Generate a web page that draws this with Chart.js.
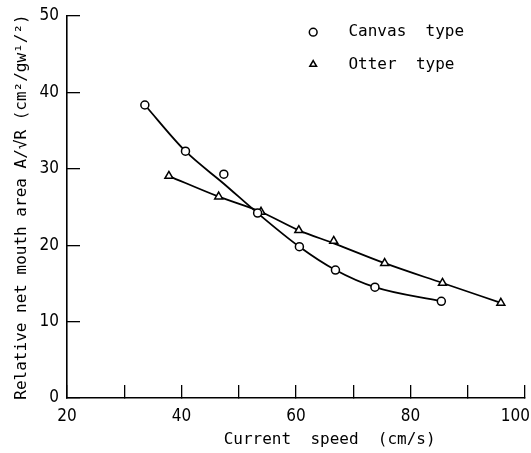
<!DOCTYPE html>
<html>
<head>
<meta charset="utf-8">
<script src="https://cdn.jsdelivr.net/npm/chart.js@4/dist/chart.umd.min.js"></script>
<style>
html,body{margin:0;padding:0;background:#fff;}
canvas{display:block;}
</style>
</head>
<body>
<canvas id="c" width="531" height="453"></canvas>
<script>
// ---- data ----
const seriesLabels = ['Canvas  type', 'Otter  type'];
const canvasSpeed = [33.6, 40.7, 47.4, 53.3, 60.6, 66.9, 73.8, 85.4];
const canvasArea  = [38.35, 32.3, 29.3, 24.2, 19.8, 16.75, 14.5, 12.65];
const canvasCurve = [38.35, 32.3, 28.05, 24.2, 19.8, 16.75, 14.5, 12.65];
const otterSpeed  = [37.8, 46.5, 53.9, 60.5, 66.6, 75.5, 85.6, 95.8];
const otterArea   = [29.05, 26.35, 24.35, 21.95, 20.55, 17.65, 15.05, 12.45];
const otterCurve  = [29.05, 26.35, 24.35, 21.95, 20.25, 17.65, 15.05, 12.45];
const xTickMin = 20, xTickMax = 100, xTickStep = 10, xLabelEvery = 20;
const yTickMin = 0, yTickMax = 50, yTickStep = 10;
const xAxisTitle = '       Current  speed  (cm/s)';
const yAxisTitle = 'Relative net mouth area A/\u221AR (cm\u00B2/gw\u00B9/\u00B2)';

const toPts = (xs, ys) => xs.map((x, i) => ({x: x, y: ys[i]}));

const mono = "'DejaVu Sans Mono', 'Liberation Mono', monospace";
const narrow = "'Liberation Sans Narrow', 'DejaVu Sans Condensed', 'Roboto Condensed', 'Liberation Sans', sans-serif";

const placeItems = {
  id: 'placeItems',
  afterUpdate(chart) {
    const lg = chart.legend;
    if (lg) {
      lg.left = 289; lg.top = 8;
      lg.width = 230; lg.height = 120;
      lg.right = lg.left + lg.width; lg.bottom = lg.top + lg.height;
    }
    // keep the last x tick label inside the canvas, right-aligned like the reference
    const sx = chart.scales.x;
    const items = sx.getLabelItems(chart.chartArea);
    const last = items[items.length - 1];
    if (last && last.label === String(xTickMax)) {
      last.options.textAlign = 'right';
      last.options.translation = [chart.width - 1, last.options.translation[1]];
    }
  }
};

const markerCommon = {
  showLine: false,
  borderColor: '#000',
  backgroundColor: '#fff',
  borderWidth: 1.5,
  pointBorderWidth: 1.5,
  pointBackgroundColor: '#fff',
  pointBorderColor: '#000'
};
const curveCommon = {
  showLine: true,
  borderColor: '#000',
  borderWidth: 1.8,
  pointRadius: 0,
  fill: false,
  cubicInterpolationMode: 'monotone'
};

new Chart(document.getElementById('c'), {
  type: 'scatter',
  data: {
    datasets: [
      Object.assign({label: seriesLabels[0], data: toPts(canvasSpeed, canvasArea), pointStyle: 'circle', pointRadius: 4}, markerCommon),
      Object.assign({label: seriesLabels[1], data: toPts(otterSpeed, otterArea), pointStyle: 'triangle', pointRadius: 4.6}, markerCommon),
      Object.assign({label: 'canvas curve', data: toPts(canvasSpeed, canvasCurve)}, curveCommon),
      Object.assign({label: 'otter curve', data: toPts(otterSpeed, otterCurve)}, curveCommon)
    ]
  },
  options: {
    responsive: false,
    animation: false,
    events: [],
    layout: {padding: {left: 0, right: 5, top: 16, bottom: 0}},
    plugins: {
      tooltip: {enabled: false},
      legend: {
        display: true,
        position: 'chartArea',
        align: 'start',
        fullSize: false,
        labels: {
          usePointStyle: true,
          boxWidth: 16,
          boxHeight: 5.5,
          padding: 16.2,
          color: '#000',
          font: {family: mono, size: 16},
          filter: (item) => item.datasetIndex < 2,
          generateLabels: (chart) => {
            const items = Chart.defaults.plugins.legend.labels.generateLabels(chart);
            items.forEach(it => { it.text = '  ' + it.text; });
            return items;
          }
        }
      }
    },
    scales: {
      x: {
        type: 'linear',
        min: xTickMin, max: xTickMax,
        afterFit: (s) => { s.height = 55; s.paddingLeft = 0; s.paddingRight = 0; },
        border: {display: true, color: '#000', width: 1.6},
        grid: {drawOnChartArea: false, drawTicks: true, tickLength: -13, color: '#000', lineWidth: 1.3},
        ticks: {
          stepSize: xTickStep,
          padding: 21,
          maxRotation: 0,
          autoSkip: false,
          color: '#000',
          font: {family: narrow, size: 17},
          callback: (v) => (v % xLabelEvery === 0 ? String(v) : '')
        },
        title: {display: true, text: xAxisTitle, color: '#000', font: {family: mono, size: 16}, padding: {top: 0, bottom: 3.5}}
      },
      y: {
        type: 'linear',
        min: yTickMin, max: yTickMax,
        afterFit: (s) => { s.width = 67; s.paddingTop = 0; s.paddingBottom = 0; },
        border: {display: true, color: '#000', width: 1.6},
        grid: {drawOnChartArea: false, drawTicks: true, tickLength: -13, color: '#000', lineWidth: 1.3},
        ticks: {
          stepSize: yTickStep,
          padding: 21,
          color: '#000',
          font: {family: narrow, size: 17}
        },
        title: {display: true, text: yAxisTitle, color: '#000', font: {family: mono, size: 16}, padding: {top: 12, bottom: 0}}
      }
    }
  },
  plugins: [placeItems]
});
</script>
</body>
</html>
